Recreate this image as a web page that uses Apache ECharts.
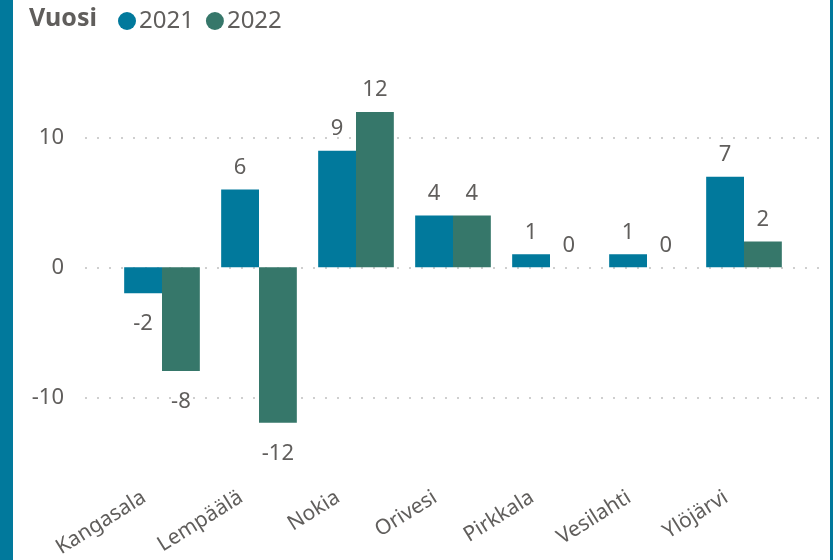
<!DOCTYPE html>
<html>
<head>
<meta charset="utf-8">
<script src="https://cdn.jsdelivr.net/npm/echarts@6/dist/echarts.min.js"></script>
<style>
  html, body { margin: 0; padding: 0; background: #fff; }
  #chart { width: 833px; height: 560px; }
</style>
</head>
<body>
<div id="chart"></div>
<script>
var kunnat = ['Kangasala', 'Lempäälä', 'Nokia', 'Orivesi', 'Pirkkala', 'Vesilahti', 'Ylöjärvi'];
var vuodet = ['2021', '2022'];
var arvot2021 = [-2, 6, 9, 4, 1, 1, 7];
var arvot2022 = [-8, -12, 12, 4, 0, 0, 2];

var teal = '#01799c';
var green = '#36776a';
var grey = '#605e5c';
var fam = 'Noto Sans';

function labelled(arr) {
    return arr.map(function (v) {
        return {
            value: v,
            label: v < 0 ? { position: 'bottom', distance: 20 } : { position: 'top', distance: 11 }
        };
    });
}

var chart = echarts.init(document.getElementById('chart'));
var option = {
    backgroundColor: '#fff',
    textStyle: { fontFamily: fam },
    animation: false,
    title: {
        text: 'Vuosi',
        left: 24,
        top: 1,
        textStyle: { fontSize: 25, fontWeight: 'bold', color: grey, fontFamily: fam }
    },
    legend: {
        data: vuodet,
        left: 113,
        top: 4,
        icon: 'circle',
        itemWidth: 18,
        itemHeight: 18,
        itemGap: 12,
        textStyle: { fontSize: 24, color: grey, fontFamily: fam, padding: [0, 0, 0, -2] }
    },
    graphic: [
        { type: 'rect', left: 0, top: 0, shape: { width: 13, height: 560 }, style: { fill: teal } },
        { type: 'rect', right: 0, top: 0, shape: { width: 3, height: 560 }, style: { fill: teal } }
    ],
    grid: [
        { left: 113.5, width: 679, top: 86, height: 364 },
        { left: 85, right: 11, top: 8, height: 520 }
    ],
    xAxis: [
        {
            type: 'category',
            gridIndex: 0,
            data: kunnat,
            axisLine: { show: false },
            axisTick: { show: false },
            axisLabel: { rotate: 32, margin: 36, fontSize: 21, color: grey, interval: 0, padding: [0, 21, 0, 0] }
        },
        { type: 'value', gridIndex: 1, show: false, min: 0, max: 1 }
    ],
    yAxis: [
        { type: 'value', gridIndex: 0, min: -14, max: 14, show: false },
        {
            type: 'value',
            gridIndex: 1,
            min: -20,
            max: 20,
            interval: 10,
            axisLine: { show: false },
            axisTick: { show: false },
            axisLabel: { fontSize: 22, color: grey, margin: 21, showMinLabel: false, showMaxLabel: false },
            splitLine: {
                show: true,
                showMinLine: false,
                showMaxLine: false,
                lineStyle: { color: '#cfcfcf', width: 2, type: [2, 10] }
            }
        }
    ],
    series: [
        {
            name: '2021',
            type: 'bar',
            xAxisIndex: 0,
            yAxisIndex: 0,
            barGap: 0,
            barCategoryGap: '22%',
            itemStyle: { color: teal },
            label: { show: true, fontSize: 22, color: grey },
            data: labelled(arvot2021)
        },
        {
            name: '2022',
            type: 'bar',
            xAxisIndex: 0,
            yAxisIndex: 0,
            barGap: 0,
            barCategoryGap: '22%',
            itemStyle: { color: green },
            label: { show: true, fontSize: 22, color: grey },
            data: labelled(arvot2022)
        }
    ]
};
chart.setOption(option);
</script>
</body>
</html>
